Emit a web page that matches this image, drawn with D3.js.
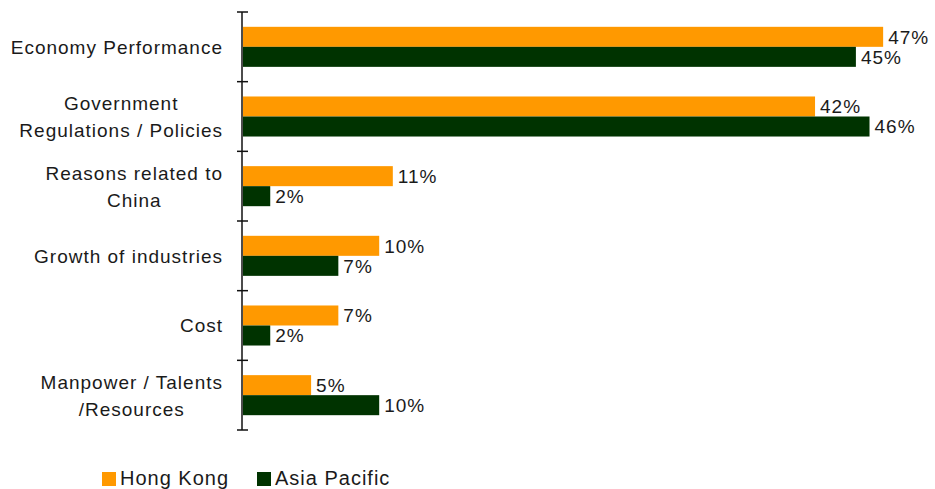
<!DOCTYPE html>
<html>
<head>
<meta charset="utf-8">
<script src="https://cdn.jsdelivr.net/npm/d3@7"></script>
<style>
	body { margin: 0; background: #fff; }
	svg text { font-family: "Liberation Sans", Arial, sans-serif; fill: #1a1a1a; letter-spacing: 1px; }
</style>
</head>
<body>
<svg width="935" height="489"></svg>
<script>
var categories = [
	["Economy Performance"],
	["Government", "Regulations / Policies"],
	["Reasons related to", "China"],
	["Growth of industries"],
	["Cost"],
	["Manpower / Talents", "/Resources"]
];
var seriesNames = ["Hong Kong", "Asia Pacific"];
var seriesColours = ["#ff9900", "#003300"];
var hongKong = [47, 42, 11, 10, 7, 5];
var asiaPacific = [45, 46, 2, 7, 2, 10];

var rows = categories.map(function (c, i){
	return {name: c.join(" "), lines: c, values: [hongKong[i], asiaPacific[i]]};
});

var mySvg = d3.select("svg");

var x = d3.scaleLinear().domain([0, 50]).range([243, 924]);
var y = d3.scaleBand().domain(rows.map(d=>d.name)).range([12, 430]).padding(0);
var y1 = d3.scaleBand().domain([0, 1]).range([0, y.bandwidth()]).paddingInner(0).paddingOuter(0.74);
var colour = d3.scaleOrdinal().domain([0, 1]).range(seriesColours);

// bars
var groups = mySvg.selectAll("g.row")
	.data(rows)
	.enter()
	.append("g")
	.attr("class", "row")
	.attr("transform", d=>"translate(0," + y(d.name) + ")");

groups.selectAll("rect")
	.data(d=>d.values.map((v, i)=>({s: i, v: v})))
	.enter()
	.append("rect")
	.attr("x", x(0))
	.attr("y", d=>y1(d.s))
	.attr("width", d=>x(d.v) - x(0))
	.attr("height", y1.bandwidth())
	.style("fill", d=>colour(d.s));

groups.selectAll("text.val")
	.data(d=>d.values.map((v, i)=>({s: i, v: v})))
	.enter()
	.append("text")
	.attr("class", "val")
	.attr("x", d=>x(d.v) + 5)
	.attr("y", d=>y1(d.s) + y1.bandwidth() / 2)
	.attr("dy", "0.36em")
	.style("font-size", "19px")
	.text(d=>d.v + "%");

// axis line with ticks on band edges
var axis = mySvg.append("g").style("stroke", "#111").style("stroke-width", 1.5);
axis.append("line")
	.attr("x1", 242).attr("x2", 242)
	.attr("y1", y.range()[0]).attr("y2", y.range()[1]);
var edges = rows.map(d=>y(d.name)).concat([y.range()[1]]);
axis.selectAll("line.tick")
	.data(edges)
	.enter()
	.append("line")
	.attr("class", "tick")
	.attr("x1", 237).attr("x2", 248)
	.attr("y1", d=>d).attr("y2", d=>d);

// category labels: block right-aligned, lines centred
var labels = mySvg.selectAll("text.cat")
	.data(rows)
	.enter()
	.append("text")
	.attr("class", "cat")
	.style("font-size", "19px")
	.attr("text-anchor", "middle");

labels.each(function (d){
	var t = d3.select(this);
	var n = d.lines.length;
	var cy = y(d.name) + y.bandwidth() / 2;
	d.lines.forEach(function (line, i){
		t.append("tspan")
			.attr("y", cy + (i - (n - 1) / 2) * 27)
			.attr("dy", "0.36em")
			.text(line);
	});
	var w = 0;
	t.selectAll("tspan").each(function (){ w = Math.max(w, this.getComputedTextLength()); });
	t.selectAll("tspan").attr("x", 223 - w / 2);
});

// legend
var legendX = [102, 257];
var legend = mySvg.selectAll("g.legend")
	.data(seriesNames)
	.enter()
	.append("g")
	.attr("class", "legend")
	.attr("transform", (d, i)=>"translate(" + legendX[i] + ",472)");
legend.append("rect")
	.attr("width", 14).attr("height", 14)
	.style("fill", (d, i)=>colour(i));
legend.append("text")
	.attr("x", 18)
	.attr("y", 13)
	.style("font-size", "20px")
	.text(d=>d);
</script>
</body>
</html>
